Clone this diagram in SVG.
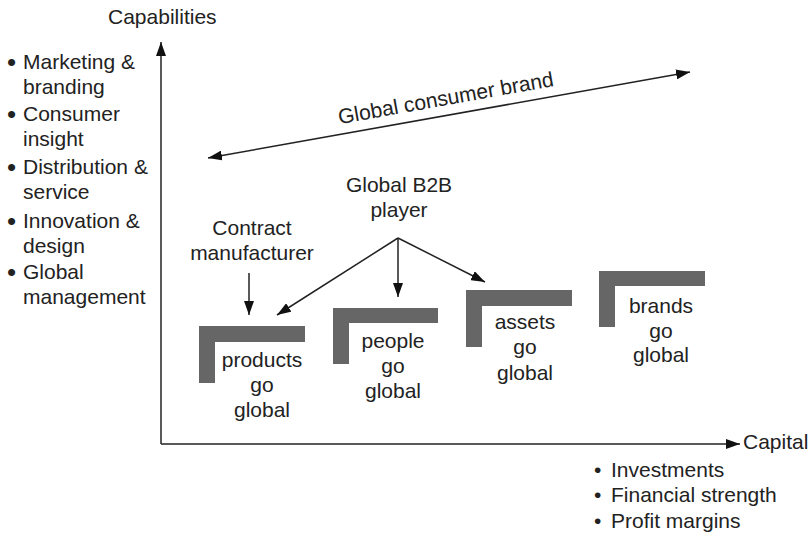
<svg xmlns="http://www.w3.org/2000/svg" width="811" height="536" viewBox="0 0 811 536">
<style>
text{font-family:"Liberation Sans",Arial,sans-serif;font-size:21px;fill:#222}
.c{text-anchor:middle}
.b{font-size:26px}
.ln{stroke:#222;stroke-width:1.5;fill:none}
.br{fill:#666}
</style>
<defs>
<marker id="ah" viewBox="0 0 14 10" refX="14" refY="5" markerWidth="14" markerHeight="10" markerUnits="userSpaceOnUse" orient="auto-start-reverse">
<path d="M0,0 L14,5 L0,10 z" fill="#111"/>
</marker>
</defs>
<rect width="811" height="536" fill="#fff"/>
<g id="connectors">
<path class="ln" d="M161,444 V42" marker-end="url(#ah)"/>
<path class="ln" d="M161,444 H740" marker-end="url(#ah)"/>
<path class="ln" d="M208,158 L690,72" marker-start="url(#ah)" marker-end="url(#ah)"/>
<path class="ln" d="M249,273 V315" marker-end="url(#ah)"/>
<path class="ln" d="M398,238 L277,315" marker-end="url(#ah)"/>
<path class="ln" d="M398,238 V297" marker-end="url(#ah)"/>
<path class="ln" d="M398,238 L485,282" marker-end="url(#ah)"/>
</g>
<g id="axis-y-label"><text x="108" y="24">Capabilities</text></g>
<g id="axis-x-label"><text x="743" y="449">Capital</text></g>
<g id="capabilities-list">
<text><tspan class="b" x="7" y="71">•</tspan><tspan x="23" y="69">Marketing &amp;</tspan></text>
<text x="23" y="94">branding</text>
<text><tspan class="b" x="7" y="123">•</tspan><tspan x="23" y="121">Consumer</tspan></text>
<text x="23" y="146">insight</text>
<text><tspan class="b" x="7" y="176">•</tspan><tspan x="23" y="174">Distribution &amp;</tspan></text>
<text x="23" y="199">service</text>
<text><tspan class="b" x="7" y="230">•</tspan><tspan x="23" y="228">Innovation &amp;</tspan></text>
<text x="23" y="253">design</text>
<text><tspan class="b" x="7" y="281">•</tspan><tspan x="23" y="279">Global</tspan></text>
<text x="23" y="304">management</text>
</g>
<g id="capital-list">
<text y="477"><tspan x="594">•</tspan><tspan x="611">Investments</tspan></text>
<text y="502"><tspan x="594">•</tspan><tspan x="611">Financial strength</tspan></text>
<text y="528"><tspan x="594">•</tspan><tspan x="611">Profit margins</tspan></text>
</g>
<g id="global-consumer-brand"><text class="c" x="447" y="105" transform="rotate(-10.1 447 105)">Global consumer brand</text></g>
<g id="global-b2b-player"><text class="c" x="399" y="192">Global B2B</text><text class="c" x="399" y="217">player</text></g>
<g id="contract-manufacturer"><text class="c" x="252" y="235">Contract</text><text class="c" x="252" y="260">manufacturer</text></g>
<g id="products-go-global">
<path class="br" d="M199,326 H305 V342 H215 V383 H199 Z"/>
<text class="c" x="262" y="367">products</text><text class="c" x="262" y="392">go</text><text class="c" x="262" y="417">global</text>
</g>
<g id="people-go-global">
<path class="br" d="M333,308 H438 V323 H349 V364 H333 Z"/>
<text class="c" x="393" y="348">people</text><text class="c" x="393" y="373">go</text><text class="c" x="393" y="398">global</text>
</g>
<g id="assets-go-global">
<path class="br" d="M466,290 H572 V306 H482 V347 H466 Z"/>
<text class="c" x="525" y="329">assets</text><text class="c" x="525" y="354">go</text><text class="c" x="525" y="380">global</text>
</g>
<g id="brands-go-global">
<path class="br" d="M599,271 H705 V286 H615 V327 H599 Z"/>
<text class="c" x="661" y="313">brands</text><text class="c" x="661" y="338">go</text><text class="c" x="661" y="362">global</text>
</g>
</svg>
